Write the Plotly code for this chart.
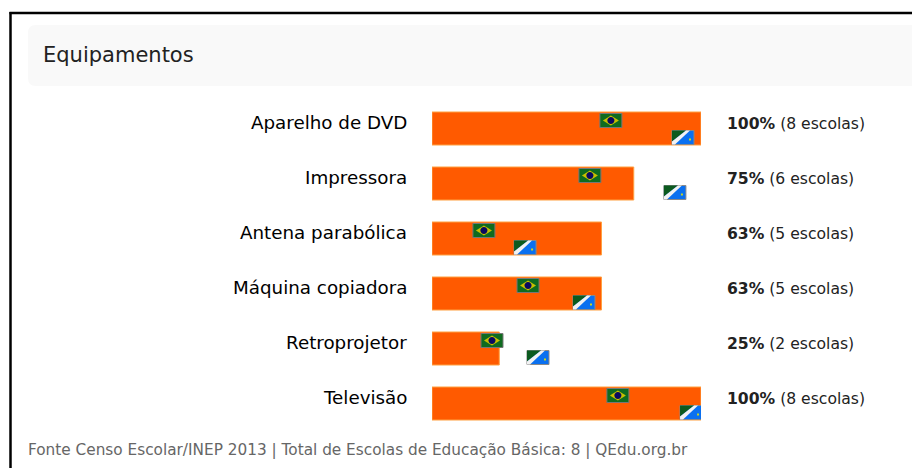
import math
import plotly.graph_objects as go

categories = ["Aparelho de DVD", "Impressora", "Antena parabólica", "Máquina copiadora", "Retroprojetor", "Televisão"]
percent = [100, 75, 63, 63, 25, 100]
schools = [8, 6, 5, 5, 2, 8]
brazil_mark = [66.5, 58.7, 19.3, 35.7, 22.3, 69.1]
state_mark = [93.3, 90.3, 34.6, 56.5, 39.4, 96.3]
title = "Equipamentos"
footer = "Fonte Censo Escolar/INEP 2013 | Total de Escolas de Educação Básica: 8 | QEdu.org.br"

W, H = 912, 468
FONT = "DejaVu Sans"


def px(x):
    return x / W


def py(y):
    return 1 - y / H


# Rounded left corners of the header band, in page pixels relative to its top-left corner
header_path = "M28,{b}L28,{t}Q28,{t0} 36,{t0}L912,{t0}L912,{b0}L36,{b0}Q28,{b0} 28,{b}Z".format(
    t=py(33), t0=py(25), b=py(78), b0=py(86))
header_path = " ".join(header_path.split())

shapes = [
    dict(type="path", xref="paper", yref="paper",
         path=f"M{px(28)},{py(78)}L{px(28)},{py(33)}Q{px(28)},{py(25)} {px(36)},{py(25)}"
              f"L1,{py(25)}L1,{py(86)}L{px(36)},{py(86)}Q{px(28)},{py(86)} {px(28)},{py(78)}Z",
         fillcolor="#f9f9f9", line_width=0, layer="below"),
    dict(type="line", xref="paper", yref="paper", x0=px(9.5), x1=1, y0=py(13), y1=py(13),
         line=dict(color="#000000", width=2.5)),
    dict(type="line", xref="paper", yref="paper", x0=px(10.5), x1=px(10.5), y0=py(12), y1=0,
         line=dict(color="#000000", width=2.5)),
]


def pix_path(xv, yv, path, fill, line=None):
    return dict(type="path", xref="x", yref="y", xsizemode="pixel", ysizemode="pixel",
                xanchor=xv, yanchor=yv, path=path, fillcolor=fill,
                line=line or dict(width=0), layer="above")


def rect(x0, y0, x1, y1):
    return f"M{x0},{y0}L{x1},{y0}L{x1},{y1}L{x0},{y1}Z"


def disc(cx, cy, r, n=16):
    pts = [(cx + r * math.cos(2 * math.pi * i / n), cy + r * math.sin(2 * math.pi * i / n)) for i in range(n)]
    return "M" + "L".join(f"{a:.2f},{b:.2f}" for a, b in pts) + "Z"


for c, b, s in zip(categories, brazil_mark, state_mark):
    shapes += [
        pix_path(b, c, rect(-11, 1, 11, 15), "#0f6b1f", dict(color="#777777", width=1)),
        pix_path(b, c, "M-8,8L0,13L8,8L0,3Z", "#c8c000"),
        pix_path(b, c, disc(0, 8, 3.5), "#0a0a60"),
        pix_path(s, c, rect(-11, -16, 11, -2), "#0a70f0", dict(color="#888888", width=1)),
        pix_path(s, c, "M-11,-2L3,-2L-11,-13Z", "#0b5a1e"),
        pix_path(s, c, "M-11,-16L-8,-16L7,-2L3,-2L-11,-13Z", "#f2f2f2"),
        pix_path(s, c, rect(6, -12, 8, -10), "#c8d820"),
    ]

annotations = [
    dict(xref="paper", yref="paper", x=px(43), y=py(55), text=title, showarrow=False, xanchor="left",
         yanchor="middle", xshift=-2, font=dict(family=FONT, size=21, color="#222222")),
    dict(xref="paper", yref="paper", x=px(28), y=py(450), text=footer, showarrow=False, xanchor="left",
         yanchor="middle", xshift=-2, font=dict(family=FONT, size=15.3, color="#666666")),
]
for c, v, n in zip(categories, percent, schools):
    annotations.append(dict(x=0, y=c, xref="x", yref="y", text=c, showarrow=False, xanchor="right",
                            yanchor="middle", xshift=-23, yshift=6,
                            font=dict(family=FONT, size=18.3, color="#000000")))
    annotations.append(dict(x=100, y=c, xref="x", yref="y", text=f"<b>{v}%</b> ({n} escolas)", showarrow=False,
                            xanchor="left", yanchor="middle", xshift=24, yshift=5,
                            font=dict(family=FONT, size=15.6, color="#222222")))

fig = go.Figure(go.Bar(y=categories, x=percent, orientation="h", width=0.6,
                       marker=dict(color="#ff5a00", line=dict(color="#ffa040", width=1)),
                       hoverinfo="skip"))
fig.update_layout(
    width=W, height=H, margin=dict(l=0, r=0, t=0, b=0), paper_bgcolor="white", plot_bgcolor="white",
    showlegend=False, shapes=shapes, annotations=annotations,
    xaxis=dict(domain=[px(432), px(701)], range=[0, 100], visible=False),
    yaxis=dict(domain=[py(431), py(101)], autorange="reversed", visible=False, type="category",
               categoryorder="array", categoryarray=categories),
)
fig.write_html("out.html", config=dict(displayModeBar=False),
               post_script="document.body.style.margin='0';document.body.style.overflow='hidden';")
